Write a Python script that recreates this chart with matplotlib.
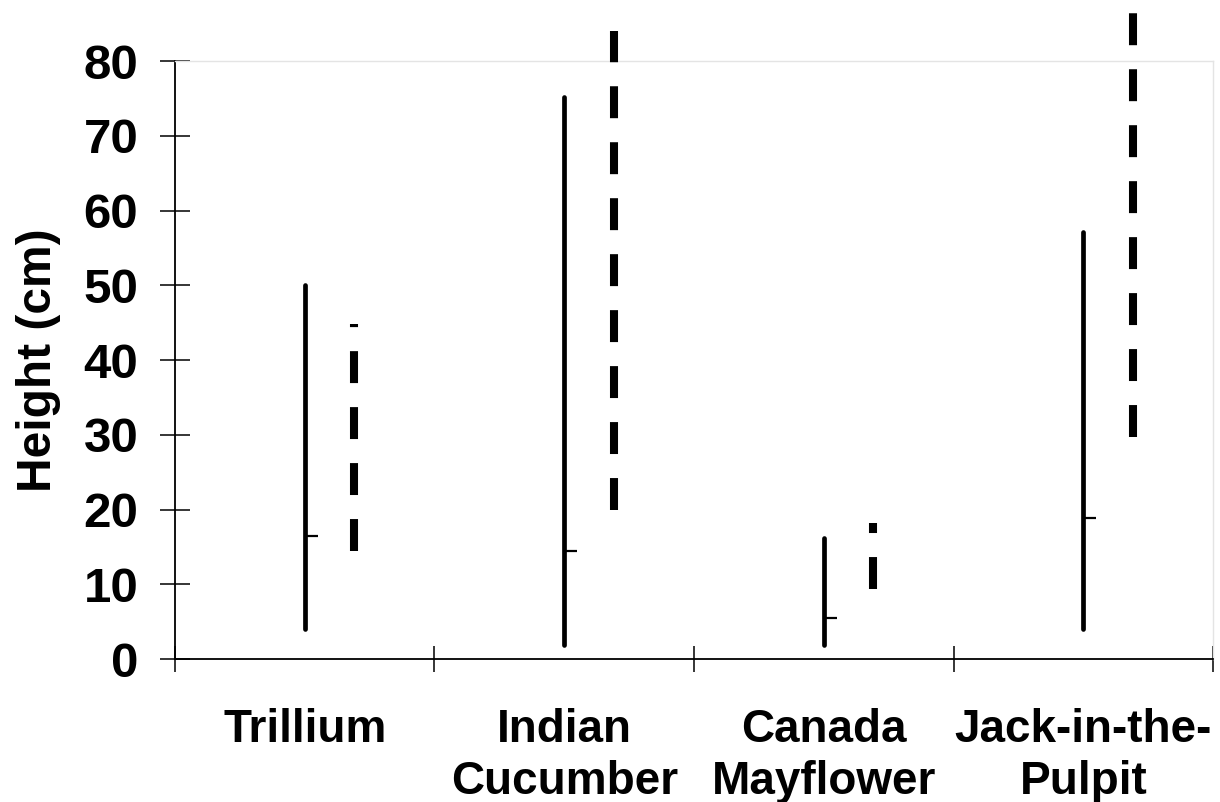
import matplotlib
matplotlib.use("Agg")
import matplotlib.pyplot as plt
import numpy as np

plt.rcParams['font.family'] = ['Liberation Sans', 'DejaVu Sans']
plt.rcParams['font.weight'] = 'bold'
plt.rcParams['lines.scale_dashes'] = False

species = ["Trillium", "Indian\nCucumber", "Canada\nMayflower", "Jack-in-the-\nPulpit"]

# first series: high / low / close
solid_high = [50.0, 75.2, 16.2, 57.1]
solid_low = [4.0, 1.9, 1.9, 4.0]
solid_close = [16.5, 14.4, 5.5, 18.9]

# second series: high / low
dash_high = [44.8, 84.0, 18.2, 87.0]
dash_low = [14.4, 19.9, 9.4, 29.7]

yticks = [0, 10, 20, 30, 40, 50, 60, 70, 80]

fig = plt.figure(figsize=(12.2, 8.02), dpi=100)
ax = fig.add_axes([0.1434, 0.1783, 0.8509, 0.7456])

x = np.arange(len(species))
dash_shift = 0.19
close_len = 0.05

for i in x:
    ax.plot([i, i], [solid_low[i], solid_high[i]], color='black', lw=3.4,
            solid_capstyle='round', clip_on=False, zorder=3)
    ax.plot([i, i + close_len], [solid_close[i], solid_close[i]], color='black',
            lw=1.6, solid_capstyle='butt', clip_on=False, zorder=3)
    ax.plot([i + dash_shift, i + dash_shift], [dash_low[i], dash_high[i]],
            color='black', lw=5.8, linestyle=(0, (23.0, 17.3)),
            dash_capstyle='butt', clip_on=False, zorder=3)

ax.set_xlim(-0.5, 3.5)
ax.set_ylim(0, 80)

ax.set_yticks(yticks)
ax.set_yticklabels([str(v) for v in yticks], fontsize=35.5, fontweight='bold')
ax.tick_params(axis='y', direction='inout', length=21, width=1.1, pad=16)

# category boundaries carry the tick marks; names sit between them
ax.set_xticks(np.arange(-0.5, 3.6, 1.0))
ax.set_xticklabels([])
ax.tick_params(axis='x', which='major', direction='inout', length=19, width=1.1)
ax.set_xticks(x, minor=True)
ax.set_xticklabels(species, minor=True, fontsize=33, fontweight='bold',
                   linespacing=1.25, va='top')
ax.tick_params(axis='x', which='minor', length=0, pad=35)

ax.set_ylabel("Height (cm)", fontsize=34.5, fontweight='bold', labelpad=16)

for side in ['left', 'bottom']:
    ax.spines[side].set_linewidth(1.3)
    ax.spines[side].set_color('black')
for side in ['top', 'right']:
    ax.spines[side].set_linewidth(1.0)
    ax.spines[side].set_color('#e4e4e4')

fig.savefig("out.png", dpi=100, facecolor='white')
